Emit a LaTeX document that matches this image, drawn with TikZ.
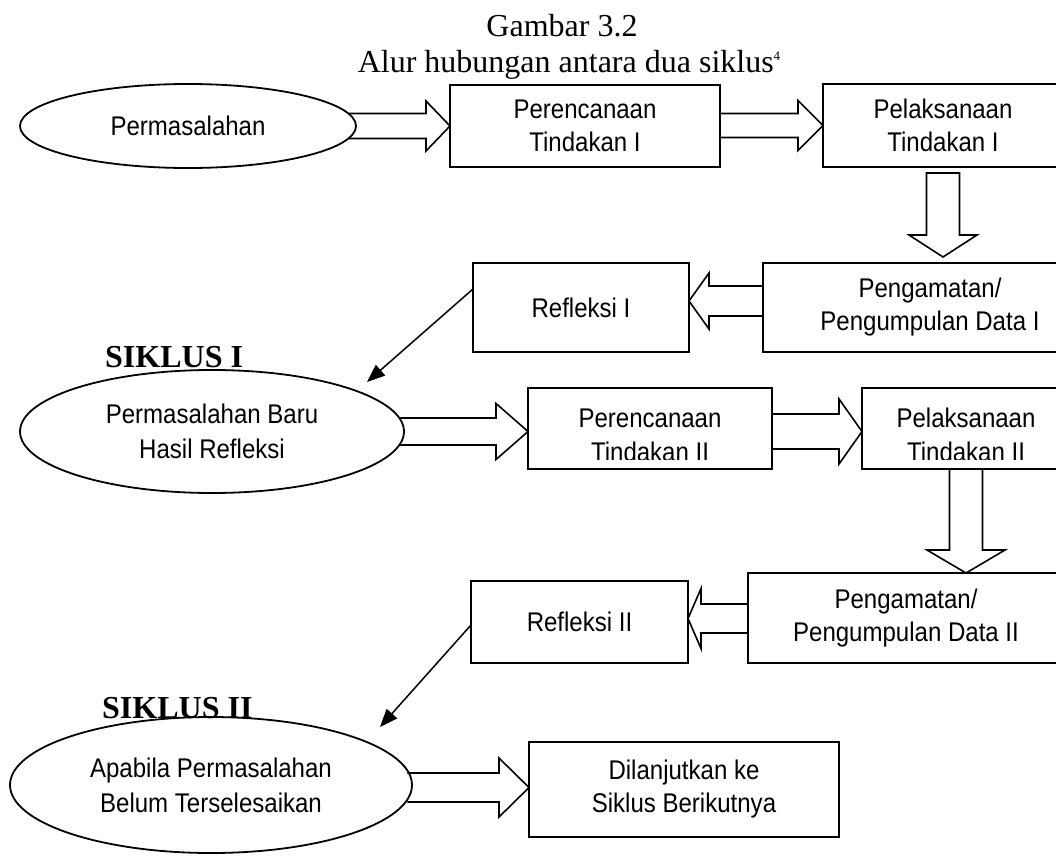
\documentclass[tikz,border=0pt]{standalone}
\usepackage{fontspec}
\setmainfont{Liberation Serif}
\newfontfamily\arialn[FakeStretch=0.89]{Liberation Sans}
\usetikzlibrary{shapes.geometric,calc,arrows.meta}
% fat hollow arrow pointing right: from, to, shaft half, head half, head length, start inset
\newcommand\fatright[6]{\draw[fat] let \p1=(#1), \p2=(#2) in
  (\x1-#6pt,\y2+#3pt) -- (\x2-#5pt,\y2+#3pt) -- (\x2-#5pt,\y2+#4pt) -- (\x2,\y2)
  -- (\x2-#5pt,\y2-#4pt) -- (\x2-#5pt,\y2-#3pt) -- (\x1-#6pt,\y2-#3pt);}
% fat hollow arrow pointing left
\newcommand\fatleft[6]{\draw[fat] let \p1=(#1), \p2=(#2) in
  (\x1+#6pt,\y2+#3pt) -- (\x2+#5pt,\y2+#3pt) -- (\x2+#5pt,\y2+#4pt) -- (\x2,\y2)
  -- (\x2+#5pt,\y2-#4pt) -- (\x2+#5pt,\y2-#3pt) -- (\x1+#6pt,\y2-#3pt);}
% fat hollow arrow pointing down: from, to, shaft half, head half, head length, start gap, end gap
\newcommand\fatdown[7]{\draw[fat] let \p1=(#1), \p2=(#2) in
  (\x1-#3pt,\y1-#6pt) -- (\x1-#3pt,\y2+#7pt+#5pt) -- (\x1-#4pt,\y2+#7pt+#5pt) -- (\x1,\y2+#7pt)
  -- (\x1+#4pt,\y2+#7pt+#5pt) -- (\x1+#3pt,\y2+#7pt+#5pt) -- (\x1+#3pt,\y1-#6pt) -- cycle;}
\begin{document}
\begin{tikzpicture}[x=1pt,y=-1pt,
  box/.style={draw, line width=1.8pt, rectangle, inner sep=0pt, outer sep=0pt,
    font=\arialn\fontsize{27}{33}\selectfont, align=center},
  oval/.style={draw, line width=1.8pt, ellipse, inner sep=0pt, outer sep=0pt,
    font=\arialn\fontsize{27}{35}\selectfont, align=center},
  txt/.style={inner sep=0pt, font=\arialn\fontsize{27}{34}\selectfont, align=center},
  fat/.style={line width=1.6pt, line join=miter},
  link/.style={line width=1.5pt, -{Triangle[length=18pt,width=14pt]}},
  ttl/.style={inner sep=0pt, anchor=base, font=\fontsize{32}{35}\selectfont},
  cyc/.style={inner sep=0pt, anchor=base west, font=\bfseries\fontsize{32}{35}\selectfont}]
\useasboundingbox (0,0) rectangle (1056,859);
\clip (0,0) rectangle (1056,859);

% titles
\node[ttl] (t1) at (562,37) {Gambar 3.2};
\node[ttl] (t2) at (569,72) {Alur hubungan antara dua siklus\raisebox{12pt}{\fontsize{13}{13}\selectfont 4}};

% cycle I
\node[oval, minimum width=336pt, minimum height=84pt] (E1) at (188,126) {Permasalahan};
\node[box, minimum width=270pt, minimum height=82pt] (P1) at (585,126) {Perencanaan\\Tindakan I};
\node[box, minimum width=240pt, minimum height=83pt] (L1) at (943,125.5) {Pelaksanaan\\Tindakan I};
\node[box, minimum width=216pt, minimum height=89pt] (R1) at (581,307.5) {Refleksi I};
\node[box, minimum width=334pt, minimum height=89pt] (G1) at (930,307.5) {Pengamatan/\\Pengumpulan Data I};
\node[cyc] (S1) at (105,367) {SIKLUS I};

% cycle II
\node[oval, minimum width=384pt, minimum height=123pt] (E2) at (212,431.5) {Permasalahan Baru\\Hasil Refleksi};
\node[box, minimum width=244pt, minimum height=81pt] (P2) at (650,428.5) {};
\node[txt] (P2t) at (650,435) {Perencanaan\\Tindakan II};
\node[box, minimum width=208pt, minimum height=81pt] (L2) at (966,428.5) {};
\node[txt] (L2t) at (966,435) {Pelaksanaan\\Tindakan II};
\fill[white] ($(P2.south west)+(1.5,-1.5)$) rectangle ($(P2.south east)+(-1.5,-9)$);
\fill[white] ($(L2.south west)+(1.5,-1.5)$) rectangle ($(L2.south east)+(-1.5,-9)$);
\node[box, minimum width=217pt, minimum height=82pt] (R2) at (579.5,622) {Refleksi II};
\node[box, minimum width=316pt, minimum height=90pt] (G2) at (906,618) {Pengamatan/\\Pengumpulan Data II};
\node[cyc] (S2) at (102,718) {SIKLUS II};
\node[oval, minimum width=402pt, minimum height=136pt] (E3) at (211,785) {Apabila Permasalahan\\Belum Terselesaikan};
\node[box, minimum width=310pt, minimum height=95pt] (D) at (684,789.5) {Dilanjutkan ke\\Siklus Berikutnya};

% fat arrows
\fatright{E1.east}{P1.west}{12.5}{25}{24}{7.6}
\fatright{P1.east}{L1.west}{12}{25}{25}{0}
\fatdown{L1.south}{G1.north}{16.5}{34}{22}{6}{6}
\fatleft{G1.west}{$(R1.east)+(0,-6.5)$}{15}{28}{20}{0}
\fatright{E2.east}{$(P2.west)+(0,3)$}{13.5}{28}{32}{4.7}
\fatright{P2.east}{$(L2.west)+(0,3)$}{17.5}{32.5}{23}{0}
\fatdown{L2.south}{G2.north}{16.5}{39}{23}{0}{0}
\fatleft{G2.west}{$(R2.east)+(0,-3.5)$}{14.5}{30}{13}{0}
\fatright{E3.east}{$(D.west)+(0,-2)$}{14.5}{29.5}{30}{4.6}

% thin arrows
\coordinate (a1) at (367,382);
\coordinate (a2) at (380,727);
\draw[link] ($(R1.west)+(0,-18.5)$) -- (a1);
\draw[link] ($(R2.west)+(0,3)$) -- (a2);
\end{tikzpicture}
\end{document}
